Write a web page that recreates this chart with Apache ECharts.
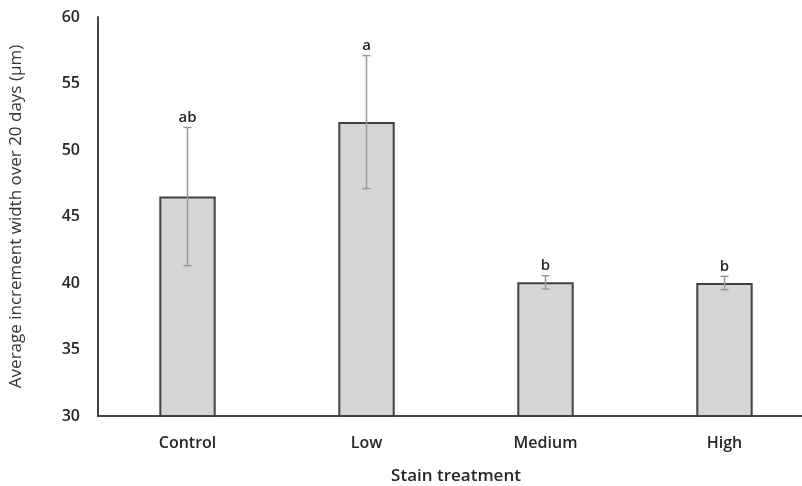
<!DOCTYPE html>
<html>
<head>
<meta charset="utf-8">
<script src="https://cdn.jsdelivr.net/npm/echarts@6/dist/echarts.min.js"></script>
<style>html,body{margin:0;padding:0;background:#fff}#c{width:802px;height:486px}</style>
</head>
<body>
<div id="c"></div>
<script>
var categories = ['Control', 'Low', 'Medium', 'High'];
var means = [46.5, 52.1, 40.05, 40.0];
var errors = [5.2, 5.0, 0.5, 0.5];
var letters = ['ab', 'a', 'b', 'b'];
var yTicks = [30, 35, 40, 45, 50, 55, 60];

var chart = echarts.init(document.getElementById('c'));
var errData = categories.map(function (c, i) { return [i, means[i] - errors[i], means[i] + errors[i], letters[i]]; });
chart.setOption({
  animation: false,
  textStyle: { fontFamily: 'Open Sans' },
  grid: { left: 98, top: 17, width: 716, height: 399, outerBoundsMode: 'none', containLabel: false },
  xAxis: {
    type: 'category', data: categories,
    axisLine: { lineStyle: { color: '#444', width: 2 } },
    axisTick: { show: false },
    axisLabel: { color: '#262626', fontSize: 16, fontWeight: 600, margin: 19 },
    name: 'Stain treatment', nameLocation: 'middle', nameGap: 52,
    nameTextStyle: { color: '#262626', fontSize: 17, fontWeight: 600 }
  },
  yAxis: {
    type: 'value', min: 30, max: 60, interval: 5,
    axisLine: { show: true, lineStyle: { color: '#444', width: 2 } },
    axisTick: { show: false },
    splitLine: { show: false },
    axisLabel: { color: '#262626', fontSize: 16, fontWeight: 600, margin: 18 },
    name: 'Average increment width over 20 days (µm)', nameLocation: 'middle', nameGap: 73,
    nameTextStyle: { color: '#333', fontSize: 17 }
  },
  series: [
    {
      type: 'bar', data: means, barWidth: '31.5%',
      itemStyle: { color: '#d5d5d5', borderColor: '#404040', borderWidth: 2 }
    },
    {
      type: 'custom', data: errData, z: 5,
      renderItem: function (params, api) {
        var x = api.value(0);
        var lo = api.coord([x, api.value(1)]);
        var hi = api.coord([x, api.value(2)]);
        var w = 4;
        var st = { stroke: '#999', lineWidth: 1.5 };
        return {
          type: 'group', children: [
            { type: 'line', shape: { x1: lo[0], y1: lo[1], x2: hi[0], y2: hi[1] }, style: st },
            { type: 'line', shape: { x1: lo[0] - w, y1: lo[1], x2: lo[0] + w, y2: lo[1] }, style: st },
            { type: 'line', shape: { x1: hi[0] - w, y1: hi[1], x2: hi[0] + w, y2: hi[1] }, style: st },
            { type: 'text', style: { text: api.value(3), x: hi[0], y: hi[1] - 2, textAlign: 'center', textVerticalAlign: 'bottom', fill: '#262626', font: '600 15px "Open Sans"' } }
          ]
        };
      }
    }
  ]
});
</script>
</body>
</html>
